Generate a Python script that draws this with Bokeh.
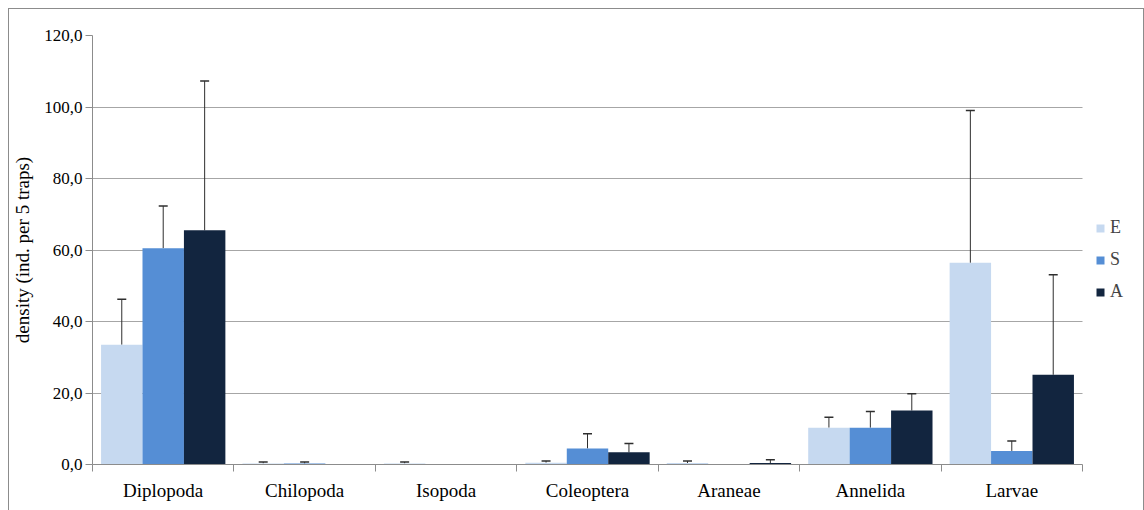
import numpy as np
from bokeh.plotting import figure
from bokeh.models import (ColumnDataSource, FixedTicker, Whisker, TeeHead,
                          Legend, LegendItem, Range1d)
from bokeh.embed import file_html
from bokeh.resources import INLINE

# Mean densities and standard deviations per taxon and site type
categories = ["Diplopoda", "Chilopoda", "Isopoda", "Coleoptera", "Araneae", "Annelida", "Larvae"]
series_names = ["E", "S", "A"]
E_mean = [33.5, 0.3, 0.3, 0.5, 0.4, 10.3, 56.4]
E_sd = [12.7, 0.4, 0.4, 0.5, 0.6, 2.9, 42.6]
S_mean = [60.5, 0.3, 0.0, 4.5, 0.0, 10.3, 3.8]
S_sd = [11.8, 0.4, 0.0, 4.1, 0.0, 4.5, 2.8]
A_mean = [65.5, 0.0, 0.0, 3.4, 0.4, 15.1, 25.1]
A_sd = [41.8, 0.0, 0.0, 2.5, 0.9, 4.7, 28.0]
y_ticks = [0, 20, 40, 60, 80, 100, 120]
y_tick_labels = ["0,0", "20,0", "40,0", "60,0", "80,0", "100,0", "120,0"]

colors = ["#c6d9f0", "#558ed5", "#12253f"]
FONT = "Liberation Serif"
n_cat = len(categories)

# The frame runs to the right edge so the legend can sit beside the bars;
# the category area itself covers 990 of the 1051 frame pixels.
frame_w = 1051
x_end = n_cat * frame_w / 990

p = figure(frame_width=frame_w, frame_height=429, output_backend="svg", toolbar_location=None,
           x_range=Range1d(0, x_end), y_range=Range1d(0, 120),
           min_border_left=83, min_border_right=0, min_border_top=26,
           min_border_bottom=47)
p.outline_line_color = None
p.background_fill_color = "white"
p.border_fill_color = "white"
p.margin = (8, 0, 0, 8)
p.styles = {"border-left": "1px solid #8c8c8c", "border-top": "1px solid #8c8c8c",
            "border-right": "1px solid #8c8c8c"}

bar_w = 0.293
offsets = [-bar_w, 0.0, bar_w]
centers = np.arange(n_cat) + 0.5

renderers = []
for name, mean, sd, col, off in zip(series_names, [E_mean, S_mean, A_mean],
                                     [E_sd, S_sd, A_sd], colors, offsets):
    xs = centers + off
    src = ColumnDataSource(dict(x=xs, top=mean))
    r = p.vbar(x="x", top="top", width=bar_w, bottom=0, source=src,
               fill_color=col, line_color=None)
    renderers.append((name, r))
    keep = [i for i, s in enumerate(sd) if s > 0]
    esrc = ColumnDataSource(dict(
        x=[xs[i] for i in keep],
        lower=[mean[i] for i in keep],
        upper=[mean[i] + sd[i] for i in keep]))
    w = Whisker(source=esrc, base="x", lower="lower", upper="upper",
                line_color="#2e2e2e", line_width=1,
                upper_head=TeeHead(size=9, line_color="#2e2e2e", line_width=1.5),
                lower_head=None)
    p.add_layout(w)

# y axis
p.yaxis.ticker = FixedTicker(ticks=y_ticks, minor_ticks=[])
p.yaxis.major_label_overrides = {t: lab for t, lab in zip(y_ticks, y_tick_labels)}
p.yaxis.axis_label = "density (ind. per 5 traps)"
p.yaxis.axis_label_text_font = FONT
p.yaxis.axis_label_text_font_style = "normal"
p.yaxis.axis_label_text_font_size = "19px"
p.yaxis.axis_label_text_color = "black"
p.yaxis.axis_label_standoff = 8
p.yaxis.major_label_text_font = FONT
p.yaxis.major_label_text_font_size = "17px"
p.yaxis.major_label_text_color = "black"
p.yaxis.major_tick_out = 7
p.yaxis.major_tick_in = 0
p.yaxis.minor_tick_line_color = None
p.yaxis.axis_line_color = "#8c8c8c"
p.yaxis.major_tick_line_color = "#8c8c8c"
p.yaxis.major_label_standoff = 3

# x axis: labels at group centres, tick marks at group boundaries
p.xaxis.bounds = (0, n_cat)
p.xaxis.ticker = FixedTicker(ticks=list(centers),
                             minor_ticks=list(range(n_cat + 1)))
p.xaxis.major_label_overrides = {float(c): lab for c, lab in zip(centers, categories)}
p.xaxis.major_label_text_font = FONT
p.xaxis.major_label_text_font_size = "19px"
p.xaxis.major_label_text_color = "black"
p.xaxis.major_label_standoff = 8
p.xaxis.major_tick_line_color = None
p.xaxis.minor_tick_out = 7
p.xaxis.minor_tick_in = 0
p.xaxis.minor_tick_line_color = "#8c8c8c"
p.xaxis.axis_line_color = "#8c8c8c"

p.xgrid.grid_line_color = None
p.ygrid.grid_line_color = "#a6a6a6"
p.ygrid.grid_line_width = 1
p.ygrid.cross_bounds = (0, n_cat)

legend = Legend(items=[LegendItem(label=n, renderers=[r]) for n, r in renderers],
                location=(1003, 162), glyph_width=10, glyph_height=10,
                label_height=20, spacing=11, padding=0, margin=0,
                label_standoff=5, border_line_color=None,
                background_fill_alpha=0,
                label_text_font=FONT, label_text_font_size="18px")
p.add_layout(legend, "center")

open("out.html", "w").write(file_html(p, INLINE))
